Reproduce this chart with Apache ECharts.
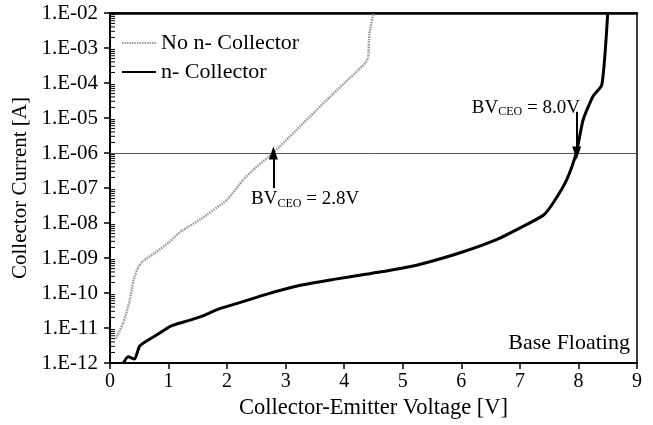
<!DOCTYPE html>
<html>
<head>
<meta charset="utf-8">
<script src="https://cdn.jsdelivr.net/npm/echarts@6/dist/echarts.min.js"></script>
<style>
  html, body { margin: 0; padding: 0; background: #fff; }
  #chart { width: 653px; height: 425px; }
</style>
</head>
<body>
<div id="chart"></div>
<script>
  // (V, A)
  var noNxV = [0.10, 0.23, 0.34, 0.40, 0.48, 0.57, 0.77, 1.00, 1.22, 1.54, 2.00, 2.28, 2.50, 2.77, 3.30, 3.82, 4.36, 4.41, 4.43, 4.50];
  var noNxI = [5.0e-12, 1.45e-11, 6.6e-11, 2.2e-10, 5.4e-10, 8.3e-10, 1.4e-9, 2.75e-9, 5.9e-9, 1.26e-8, 4.7e-8, 1.74e-7, 4.0e-7, 9.5e-7, 7.1e-6, 5.1e-5, 3.7e-4, 5.6e-4, 2.5e-3, 1.0e-2];

  var nColV = [0.23, 0.31, 0.42, 0.51, 0.83, 1.03, 1.34, 1.62, 1.85, 2.23, 2.68, 3.25, 3.82, 4.39, 4.96, 5.30, 5.98, 6.61, 7.06, 7.40, 7.57, 7.80, 7.97, 8.08, 8.25, 8.40, 8.50];
  var nColI = [1.0e-12, 1.5e-12, 1.3e-12, 3.1e-12, 6.8e-12, 1.12e-11, 1.62e-11, 2.34e-11, 3.47e-11, 5.4e-11, 9.3e-11, 1.66e-10, 2.45e-10, 3.47e-10, 5.0e-10, 6.6e-10, 1.41e-9, 3.4e-9, 8.1e-9, 1.66e-8, 3.8e-8, 1.74e-7, 1.12e-6, 8.9e-6, 4.2e-5, 8.9e-5, 1.0e-2];

  var yTickLabels = ['1.E-12', '1.E-11', '1.E-10', '1.E-09', '1.E-08', '1.E-07', '1.E-06', '1.E-05', '1.E-04', '1.E-03', '1.E-02'];
  var minorMantissa = [2, 3, 4, 5, 6, 7, 8, 9];

  var font = "'Liberation Serif', 'Times New Roman', serif";

  function pairs(xs, ys) {
    return xs.map(function (x, i) { return [x, ys[i]]; });
  }

  var minorTicks = [];
  for (var e = -12; e < -2; e++) {
    minorMantissa.forEach(function (m) { minorTicks.push([0, m * Math.pow(10, e)]); });
  }

  var subRich = {
    a: { fontFamily: font, fontSize: 19, color: '#000', lineHeight: 20 },
    s: { fontFamily: font, fontSize: 12, color: '#000', lineHeight: 6, verticalAlign: 'bottom' }
  };

  var myChart = echarts.init(document.getElementById('chart'));
  var option = {
    animation: false,
    textStyle: { fontFamily: font, color: '#000' },
    grid: {
      left: 110, right: 16, top: 13, bottom: 61,
      show: true, borderColor: '#000', borderWidth: 1.5
    },
    legend: {
      left: 116, top: 27, orient: 'vertical',
      itemWidth: 34, itemHeight: 14, itemGap: 7,
      itemStyle: { opacity: 0 },
      textStyle: { fontFamily: font, fontSize: 22, color: '#000' },
      data: ['No n- Collector', 'n- Collector']
    },
    xAxis: [{
      type: 'value', min: 0, max: 9, interval: 1,
      name: 'Collector-Emitter Voltage [V]',
      nameLocation: 'middle', nameGap: 34,
      nameTextStyle: { fontFamily: font, fontSize: 22.5, color: '#000' },
      axisLine: { lineStyle: { color: '#000', width: 2 } },
      axisTick: { length: 6, lineStyle: { color: '#000', width: 1.5 } },
      axisLabel: { fontFamily: font, fontSize: 20, color: '#000', margin: 9 },
      splitLine: { show: false }
    }, {
      type: 'value', min: 0, max: 9, position: 'top',
      axisLine: { lineStyle: { color: '#000', width: 2.5 } },
      axisTick: { show: false }, axisLabel: { show: false }, splitLine: { show: false }
    }],
    yAxis: {
      type: 'log', logBase: 10, min: 1e-12, max: 1e-2, interval: 1, splitNumber: 10,
      name: 'Collector Current [A]',
      nameLocation: 'middle', nameGap: 77,
      nameTextStyle: { fontFamily: font, fontSize: 21, color: '#000' },
      axisLine: { show: true, lineStyle: { color: '#000', width: 2 } },
      axisTick: { show: true, length: 6, lineStyle: { color: '#000', width: 1.5 } },
      axisLabel: {
        fontFamily: font, fontSize: 21, color: '#000', margin: 12,
        formatter: function (v) { return yTickLabels[Math.round(Math.log10(v)) + 12]; }
      },
      splitLine: { show: false }
    },
    series: [
      {
        type: 'custom',
        silent: true,
        data: minorTicks,
        renderItem: function (params, api) {
          var p = api.coord([api.value(0), api.value(1)]);
          return {
            type: 'line',
            shape: { x1: p[0], y1: p[1], x2: p[0] + 5, y2: p[1] },
            style: { stroke: '#000', lineWidth: 1 }
          };
        },
        z: 3
      },
      {
        name: 'No n- Collector',
        type: 'line',
        data: pairs(noNxV, noNxI),
        symbol: 'none',
        smooth: 0.2,
        lineStyle: { color: '#9a9a9a', width: 2.5, type: [1.5, 1] },
        itemStyle: { color: '#9a9a9a' },
        z: 4
      },
      {
        name: 'n- Collector',
        type: 'line',
        data: pairs(nColV, nColI),
        symbol: 'none',
        smooth: 0.2,
        lineStyle: { color: '#000', width: 3 },
        itemStyle: { color: '#000' },
        z: 5,
        markLine: {
          silent: true,
          symbol: ['none', 'none'],
          label: { show: false },
          data: [
            [
              { coord: [0, 1e-6], symbol: 'none', lineStyle: { color: '#555', width: 1, type: 'solid' } },
              { coord: [9, 1e-6], symbol: 'none' }
            ],
            [
              { coord: [2.79, 1.0e-7], symbol: 'none', lineStyle: { color: '#000', width: 2, type: 'solid' } },
              { coord: [2.79, 1.0e-6], symbol: 'triangle', symbolSize: [9, 13] }
            ],
            [
              { coord: [7.97, 1.5e-5], symbol: 'none', lineStyle: { color: '#000', width: 2, type: 'solid' } },
              { coord: [7.97, 1.0e-6], symbol: 'triangle', symbolSize: [9, 13] }
            ]
          ]
        },
        markPoint: {
          silent: true,
          symbol: 'circle',
          symbolSize: 0,
          data: [
            { coord: [2.41, 4.7e-8], label: { show: true, position: 'right', distance: 0, formatter: '{a|BV}{s|CEO}{a| = 2.8V}', rich: subRich } },
            { coord: [6.18, 1.9e-5], label: { show: true, position: 'right', distance: 0, formatter: '{a|BV}{s|CEO}{a| = 8.0V}', rich: subRich } },
            { coord: [8.88, 3.7e-12], label: { show: true, position: 'left', distance: 0, formatter: 'Base Floating', fontFamily: font, fontSize: 22, color: '#000' } }
          ]
        }
      }
    ]
  };
  myChart.setOption(option, true);
</script>
</body>
</html>
